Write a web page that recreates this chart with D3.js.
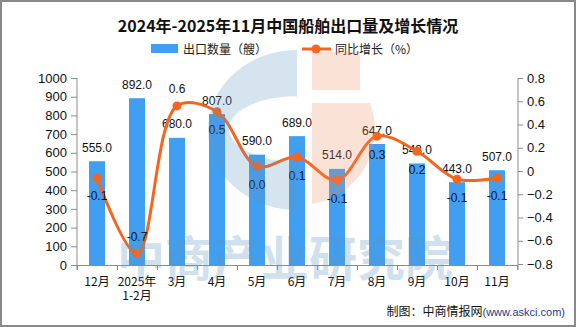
<!DOCTYPE html>
<html><head><meta charset="utf-8">
<script src="https://cdn.jsdelivr.net/npm/d3@7/dist/d3.min.js"></script>
<style>
html,body{margin:0;padding:0;background:#fff;}
svg{display:block;}
</style></head>
<body>
<svg id="c" width="576" height="327"></svg>
<script>
const title = "2024年-2025年11月中国船舶出口量及增长情况";
const categories = ["12月","2025年\n1-2月","3月","4月","5月","6月","7月","8月","9月","10月","11月"];
const exportCount = [555,892,680,807,590,689,514,647,543,443,507];
const growthRate = [-0.06,-0.71,0.56,0.51,0.04,0.12,-0.08,0.30,0.17,-0.07,-0.06];
const leftTicks = [0,100,200,300,400,500,600,700,800,900,1000];
const rightTicks = [-0.8,-0.6,-0.4,-0.2,0,0.2,0.4,0.6,0.8];
const legendLabels = ["出口数量（艘）","同比增长（%）"];
const sourceText = ["制图：中商情报网","(www.askci.com)"];
const watermarkText = "中商产业研究院";

const svg = d3.select("#c");
const BAR = "#409ff0", LINE = "#f5651f", AXIS = "#8c8c8c";
const FONT = "'Liberation Sans', Arial, sans-serif";
const CJK = "'Noto Sans CJK SC', 'Liberation Sans', sans-serif";

const x = d3.scaleBand().domain(categories).range([77,517]).padding(0);
const yL = d3.scaleLinear().domain([0,1000]).range([265,78]);
const yR = d3.scaleLinear().domain([-0.8,0.8]).range([264,78]);
const cx = c => x(c) + x.bandwidth()/2;
const barW = x.bandwidth()*0.4;

// title
svg.append("text").attr("x",288).attr("y",32).attr("text-anchor","middle")
  .attr("font-family",CJK).attr("font-weight","bold").attr("font-size",16).attr("fill","#111").text(title);

// legend
svg.append("rect").attr("x",151).attr("y",44).attr("width",27).attr("height",9).attr("fill",BAR);
svg.append("text").attr("x",183).attr("y",53.5).attr("font-family",CJK).attr("font-size",12).attr("fill","#222").text(legendLabels[0]);
svg.append("line").attr("x1",302).attr("x2",331).attr("y1",49).attr("y2",49).attr("stroke",LINE).attr("stroke-width",3);
svg.append("circle").attr("cx",316).attr("cy",49).attr("r",4.5).attr("fill",LINE);
svg.append("text").attr("x",335).attr("y",53.5).attr("font-family",CJK).attr("font-size",12).attr("fill","#222").text(legendLabels[1]);

// left axis
const gL = svg.append("g").attr("transform","translate(77,0)")
  .call(d3.axisLeft(yL).tickValues(leftTicks).tickSize(6).tickPadding(4).tickFormat(d3.format("d")));
gL.select(".domain").attr("stroke",AXIS).attr("d","M0,78V270");
gL.selectAll(".tick line").attr("stroke",AXIS);
gL.selectAll(".tick text").attr("font-family",FONT).attr("font-size",13).attr("fill","#111");

// right axis
const gR = svg.append("g").attr("transform","translate(518,0)")
  .call(d3.axisRight(yR).tickValues(rightTicks).tickSize(5).tickPadding(4).tickFormat(d => d===0 ? "0" : d3.format(".1f")(d)));
gR.select(".domain").attr("stroke",AXIS).attr("d","M0,78V270");
gR.selectAll(".tick line").attr("stroke",AXIS);
gR.selectAll(".tick text").attr("font-family",FONT).attr("font-size",13).attr("fill","#111");

// x axis
svg.append("line").attr("x1",77).attr("x2",517).attr("y1",265.5).attr("y2",265.5).attr("stroke",AXIS);
const bounds = categories.map(c => x(c)).concat([x.range()[1]]);
svg.selectAll(".xt").data(bounds).join("line")
  .attr("x1",d=>d+0.5).attr("x2",d=>d+0.5).attr("y1",265).attr("y2",270).attr("stroke",AXIS);
const xl = svg.selectAll(".xl").data(categories).join("text")
  .attr("text-anchor","middle").attr("font-family",CJK).attr("font-size",12).attr("fill","#111");
xl.each(function(d){
  const parts = d.split("\n");
  const t = d3.select(this);
  parts.forEach((p,i)=>{
    t.append("tspan").attr("x",cx(d)).attr("y",286 + i*14).text(p);
  });
});

// bars
svg.selectAll(".bar").data(categories).join("rect")
  .attr("x",d=>cx(d)-barW/2).attr("width",barW)
  .attr("y",(d,i)=>yL(exportCount[i])).attr("height",(d,i)=>yL(0)-yL(exportCount[i]))
  .attr("fill",BAR);

// bar labels
svg.selectAll(".bl").data(categories).join("text")
  .attr("x",d=>cx(d)).attr("y",(d,i)=>yL(exportCount[i])-9.5)
  .attr("text-anchor","middle").attr("font-family",FONT).attr("font-size",12).attr("fill","#111")
  .text((d,i)=>exportCount[i].toFixed(1));

// line
const pts = categories.map((c,i)=>[cx(c), yR(growthRate[i])]);
svg.append("path").attr("d", d3.line().curve(d3.curveCatmullRom.alpha(0.5))(pts))
  .attr("fill","none").attr("stroke",LINE).attr("stroke-width",3);
svg.selectAll(".dot").data(pts).join("circle")
  .attr("cx",d=>d[0]).attr("cy",d=>d[1]).attr("r",4.5).attr("fill",LINE);

// line labels (above for the sharp turn points 1 and 2, below elsewhere)
svg.selectAll(".ll").data(categories).join("text")
  .attr("x",d=>cx(d))
  .attr("y",(d,i)=>{ const p = yR(growthRate[i]); return (i===1||i===2) ? p-13 : p+22.5; })
  .attr("text-anchor","middle").attr("font-family",FONT).attr("font-size",12).attr("fill","#111")
  .text((d,i)=>{ const v = growthRate[i].toFixed(1); return v==="-0.0" ? "0.0" : v; });

// watermark (overlay)
const wm = svg.append("g").attr("pointer-events","none");
const blue = "#5b95c0", orange = "#f08a60";
// blue "C"
const cPath = d3.path();
// outer half-ellipse left of x=297
wm.append("path")
  .attr("d","M297,50 A89,80 0 0 0 297,210 Z M297,96 A68,33 0 0 0 297,162 Z")
  .attr("fill",blue).attr("fill-rule","evenodd").attr("opacity",0.25);
// orange shape
wm.append("path")
  .attr("d","M312,52 L360,52 L360,90 L312,90 Z M312,103 L370,103 A75,75 0 0 1 312,204 Z")
  .attr("fill",orange).attr("opacity",0.25);
wm.append("text").attr("x",285).attr("y",276).attr("text-anchor","middle")
  .attr("font-family",CJK).attr("font-weight","bold").attr("font-size",48)
  .attr("fill",blue).attr("opacity",0.28).text(watermarkText);

// source
const src = svg.append("text").attr("x",565).attr("y",316).attr("text-anchor","end").attr("font-family",CJK).attr("font-size",12).attr("fill","#111");
src.append("tspan").text(sourceText[0]);
src.append("tspan").attr("font-family",FONT).attr("font-size",11).attr("fill","#1a3d8f").text(sourceText[1]);

// border
svg.append("rect").attr("x",1).attr("y",1).attr("width",574).attr("height",325)
  .attr("fill","none").attr("stroke","#8a8a8a").attr("stroke-width",2);
</script>
</body></html>
